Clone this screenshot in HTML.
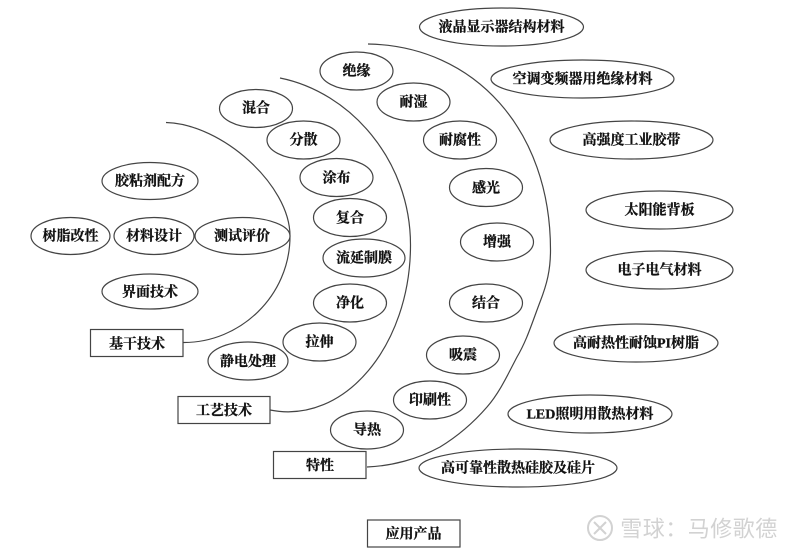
<!DOCTYPE html>
<html><head><meta charset="utf-8"><style>
html,body{margin:0;padding:0;background:#fff;width:800px;height:553px;overflow:hidden}
svg{display:block;filter:blur(.3px)}
text{font-family:"Liberation Serif","Noto Serif CJK SC",serif;font-size:14px;font-weight:700;fill:#111;stroke:#111;stroke-width:.3px;text-anchor:middle;dominant-baseline:central}
ellipse,rect{fill:#fff;stroke:#444;stroke-width:1.2}
path{fill:none;stroke:#444;stroke-width:1.2}
</style></head><body>
<svg width="800" height="553" viewBox="0 0 800 553" xmlns="http://www.w3.org/2000/svg">
<path d="M166 122.500C222 124 290 185 290 236C290 296 240 343 183 342.500"/>
<path d="M280 78C350 92 410.500 160 410.500 245C410.500 345 345 425 270 410"/>
<path d="M368 44C475 46 550.500 130 550.500 250C550.500 270 547 284 540 302C532 323 527 340 517 357C508 374 500 392 487 407C474 422 458 436 440 447C418 459 392 466 367 467"/>
<rect x="90.500" y="329.500" width="92.500" height="27"/><text x="137" y="345">基干技术</text>
<rect x="178" y="396.500" width="92" height="27"/><text x="224" y="411.500">工艺技术</text>
<rect x="273.500" y="451.500" width="92.500" height="27"/><text x="320" y="466.500">特性</text>
<rect x="367.500" y="520" width="92.500" height="27"/><text x="413.500" y="535">应用产品</text>
<ellipse cx="150" cy="181" rx="48" ry="18.500"/><text x="150" y="182">胶粘剂配方</text>
<ellipse cx="70.500" cy="236" rx="39.500" ry="18.500"/><text x="70.500" y="237">树脂改性</text>
<ellipse cx="154" cy="236" rx="40" ry="18.500"/><text x="154" y="237">材料设计</text>
<ellipse cx="242.500" cy="236" rx="47.500" ry="18.500"/><text x="242" y="237">测试评价</text>
<ellipse cx="150" cy="291.500" rx="48" ry="17.500"/><text x="150" y="293">界面技术</text>
<ellipse cx="248" cy="361" rx="40" ry="19"/><text x="248" y="362.500">静电处理</text>
<ellipse cx="319.500" cy="342" rx="36.500" ry="19"/><text x="319.500" y="343">拉伸</text>
<ellipse cx="350" cy="303" rx="36.500" ry="19"/><text x="350" y="304">净化</text>
<ellipse cx="364" cy="258" rx="41" ry="19"/><text x="364" y="259">流延制膜</text>
<ellipse cx="350" cy="217.500" rx="36.500" ry="19"/><text x="350" y="219">复合</text>
<ellipse cx="336.500" cy="177.500" rx="36.500" ry="19"/><text x="336.500" y="179">涂布</text>
<ellipse cx="303.500" cy="140" rx="36.500" ry="19"/><text x="303.500" y="141">分散</text>
<ellipse cx="256" cy="108.500" rx="36.500" ry="19"/><text x="256" y="109">混合</text>
<ellipse cx="356.500" cy="71" rx="36.500" ry="19"/><text x="356.500" y="72">绝缘</text>
<ellipse cx="413.500" cy="102" rx="36.500" ry="19"/><text x="413.500" y="103">耐湿</text>
<ellipse cx="460" cy="140" rx="36.500" ry="19"/><text x="460" y="141">耐腐性</text>
<ellipse cx="486" cy="187.500" rx="36.500" ry="19"/><text x="486" y="189">感光</text>
<ellipse cx="497" cy="242" rx="36.500" ry="19"/><text x="497" y="243">增强</text>
<ellipse cx="486" cy="303" rx="36.500" ry="19"/><text x="486" y="304">结合</text>
<ellipse cx="463" cy="355" rx="36.500" ry="19"/><text x="463" y="356">吸震</text>
<ellipse cx="430" cy="400" rx="36.500" ry="19"/><text x="430" y="401">印刷性</text>
<ellipse cx="367" cy="430" rx="36.500" ry="19"/><text x="367" y="431">导热</text>
<ellipse cx="501.500" cy="27" rx="82" ry="19"/><text x="501.500" y="28">液晶显示器结构材料</text>
<ellipse cx="582.500" cy="79" rx="91.500" ry="19"/><text x="582.500" y="80">空调变频器用绝缘材料</text>
<ellipse cx="631.500" cy="140" rx="81.500" ry="19"/><text x="631.500" y="141">高强度工业胶带</text>
<ellipse cx="659.500" cy="210" rx="73.500" ry="19"/><text x="659.500" y="211">太阳能背板</text>
<ellipse cx="659.500" cy="270" rx="73.500" ry="19"/><text x="659.500" y="271">电子电气材料</text>
<ellipse cx="636" cy="343" rx="82" ry="19"/><text x="636" y="344">高耐热性耐蚀PI树脂</text>
<ellipse cx="590" cy="414" rx="82" ry="19"/><text x="590" y="415">LED照明用散热材料</text>
<ellipse cx="518" cy="468" rx="99" ry="19"/><text x="518" y="469">高可靠性散热硅胶及硅片</text>
<circle cx="600" cy="528" r="12" style="fill:none;stroke:#d2d2d2;stroke-width:2"/>
<path d="M594 522L606 534M606 522L594 534" style="stroke:#d2d2d2;stroke-width:2"/>
<text x="699" y="529" style="font-family:'Liberation Sans','Noto Sans CJK SC',sans-serif;font-size:22px;font-weight:400;fill:#d2d2d2;stroke:none;letter-spacing:.5px">雪球：马修歌德</text>
</svg>
</body></html>
